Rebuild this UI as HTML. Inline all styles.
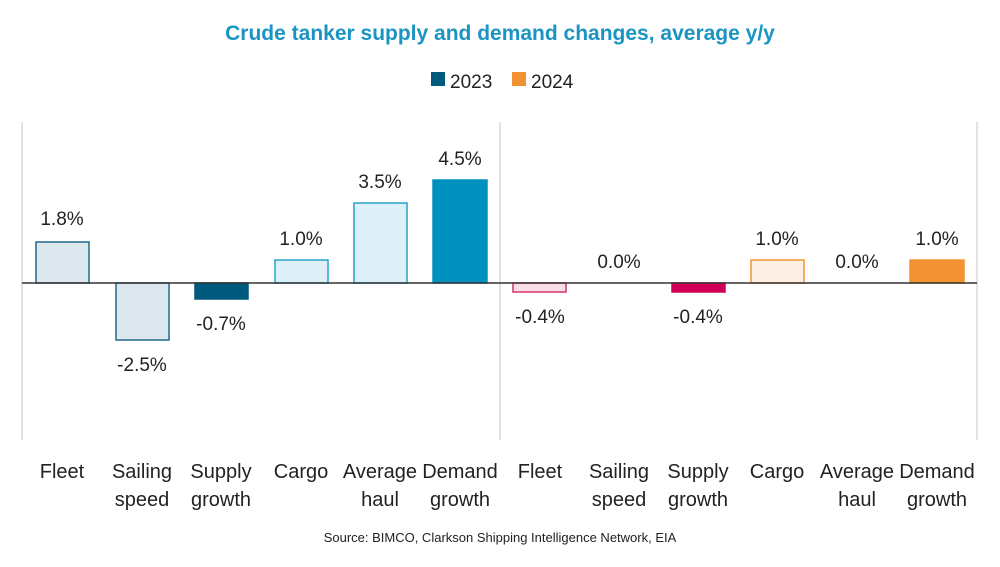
<!DOCTYPE html>
<html><head><style>body{margin:0;background:#fff}</style></head><body>
<svg width="1000" height="562" xmlns="http://www.w3.org/2000/svg" font-family="Liberation Sans, sans-serif">
<text x="500" y="40" text-anchor="middle" font-size="21" font-weight="bold" fill="#1a94c4">Crude tanker supply and demand changes, average y/y</text>
<rect x="431" y="72" width="14" height="14" fill="#005a7d"/>
<text x="450" y="88" font-size="19" fill="#222">2023</text>
<rect x="512" y="72" width="14" height="14" fill="#f39232"/>
<text x="531" y="88" font-size="19" fill="#222">2024</text>
<g stroke="#d9d9d9" stroke-width="1.5">
<line x1="22" y1="122" x2="22" y2="440"/><line x1="500" y1="122" x2="500" y2="440"/><line x1="977" y1="122" x2="977" y2="440"/>
</g>
<g stroke-width="1.5">
<rect x="36" y="242" width="53" height="41" fill="#dde8ee" stroke="#1f6a8c"/>
<rect x="116" y="283" width="53" height="57" fill="#dde8ee" stroke="#1f6a8c"/>
<rect x="195" y="283" width="53" height="16" fill="#005a7d" stroke="#005a7d"/>
<rect x="275" y="260" width="53" height="23" fill="#def0f7" stroke="#2aa0cc"/>
<rect x="354" y="203" width="53" height="80" fill="#def0f7" stroke="#2aa0cc"/>
<rect x="433" y="180" width="54" height="103" fill="#0090bd" stroke="#0090bd"/>
<rect x="513" y="283" width="53" height="9" fill="#f9dde8" stroke="#d6336c"/>
<rect x="672" y="283" width="53" height="9" fill="#d10056" stroke="#d10056"/>
<rect x="751" y="260" width="53" height="23" fill="#fdf0e4" stroke="#f39232"/>
<rect x="910" y="260" width="54" height="23" fill="#f39232" stroke="#f39232"/>
</g>
<line x1="22" y1="283" x2="977" y2="283" stroke="#333" stroke-width="1.5"/>
<g font-size="19" fill="#222" text-anchor="middle">
<text x="62" y="225">1.8%</text>
<text x="142" y="371">-2.5%</text>
<text x="221" y="330">-0.7%</text>
<text x="301" y="245">1.0%</text>
<text x="380" y="188">3.5%</text>
<text x="460" y="165">4.5%</text>
<text x="540" y="323">-0.4%</text>
<text x="619" y="268">0.0%</text>
<text x="698" y="323">-0.4%</text>
<text x="777" y="245">1.0%</text>
<text x="857" y="268">0.0%</text>
<text x="937" y="245">1.0%</text>
</g>
<g font-size="20" fill="#222" text-anchor="middle">
<text x="62" y="478">Fleet</text>
<text x="142" y="478">Sailing</text><text x="142" y="506">speed</text>
<text x="221" y="478">Supply</text><text x="221" y="506">growth</text>
<text x="301" y="478">Cargo</text>
<text x="380" y="478">Average</text><text x="380" y="506">haul</text>
<text x="460" y="478">Demand</text><text x="460" y="506">growth</text>
<text x="540" y="478">Fleet</text>
<text x="619" y="478">Sailing</text><text x="619" y="506">speed</text>
<text x="698" y="478">Supply</text><text x="698" y="506">growth</text>
<text x="777" y="478">Cargo</text>
<text x="857" y="478">Average</text><text x="857" y="506">haul</text>
<text x="937" y="478">Demand</text><text x="937" y="506">growth</text>
</g>
<text x="500" y="542" text-anchor="middle" font-size="13" fill="#222">Source: BIMCO, Clarkson Shipping Intelligence Network, EIA</text>
</svg>
</body></html>
